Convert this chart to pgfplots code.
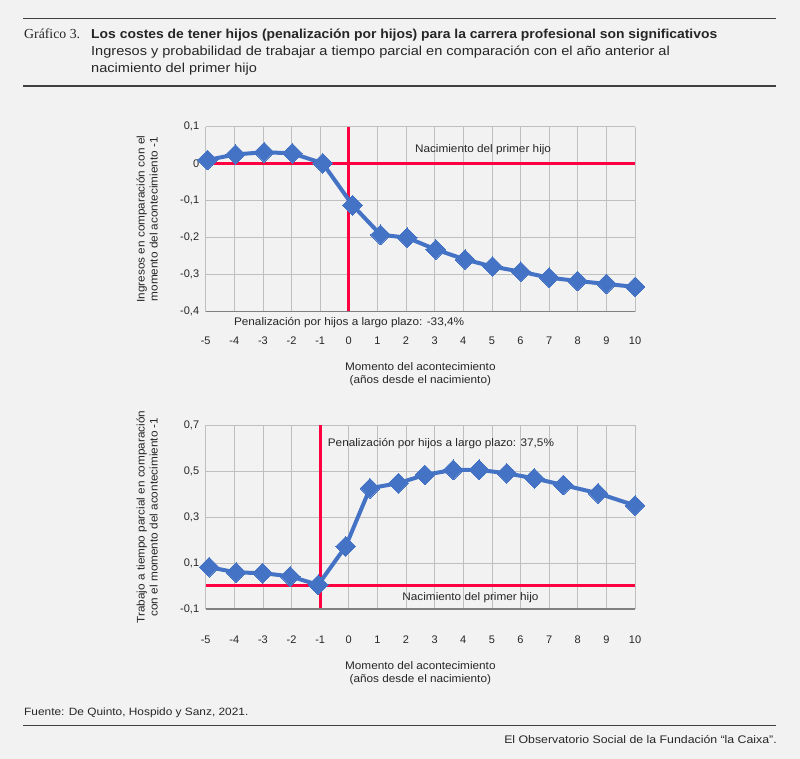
\documentclass[border=0pt]{standalone}
\usepackage{pgfplots}
\pgfplotsset{compat=1.18}
\usepackage{fontspec}
\setmainfont{Liberation Sans}
\newfontfamily\seriffont{Liberation Serif}
\newfontfamily\hdr[FakeStretch=1.12]{Liberation Sans}
\newfontfamily\hdrb[FakeStretch=1.07]{Liberation Sans}
\newfontfamily\pl[FakeStretch=1.07]{Liberation Sans}
\definecolor{bg}{HTML}{F2F2F2}
\definecolor{gridg}{HTML}{BFBFBF}
\definecolor{axg}{HTML}{808080}
\definecolor{redl}{RGB}{255,0,64}
\definecolor{bluel}{RGB}{68,114,196}
\definecolor{rule}{HTML}{404040}
\definecolor{txt}{HTML}{262626}
\pgfplotsset{
  mystyle/.style={
    scale only axis, width=429.3pt, clip=false,
    xmin=-5, xmax=10, xtick={-5,...,10},
    grid=major, major grid style={gridg, line width=0.7pt},
    axis line style={draw=none},
    major tick length=0pt,
    tick label style={font=\fontsize{11}{13}\selectfont, text=txt},
    /pgf/number format/assume math mode=true,
    /pgf/number format/use comma,
    /pgf/number format/fixed,
    yticklabel style={xshift=-3pt},
    ylabel style={font=\pl\fontsize{11}{13}\selectfont, text=txt, align=center, at={(axis description cs:-0.1367,0.5)}, anchor=center},
    xlabel style={font=\pl\fontsize{11}{13}\selectfont, text=txt, align=center, anchor=center},
  }
}
\begin{document}
\begin{tikzpicture}
\fill[bg] (0pt,0pt) rectangle (800pt,759pt);
% header
\draw[rule, line width=1.5pt] (23pt,740.7pt) -- (776pt,740.7pt);
\draw[rule, line width=1.5pt] (23pt,673pt) -- (776pt,673pt);
\node[anchor=base west, text=txt, inner sep=0] at (24pt,720.5pt) {\seriffont\fontsize{13.8}{15}\selectfont Gráfico 3.};
\node[anchor=base west, text=txt, inner sep=0] at (91pt,720.5pt) {\hdrb\fontsize{13}{15}\selectfont\bfseries Los costes de tener hijos (penalización por hijos) para la carrera profesional son significativos};
\node[anchor=base west, text=txt, inner sep=0] at (91pt,703pt) {\hdr\fontsize{13}{15}\selectfont Ingresos y probabilidad de trabajar a tiempo parcial en comparación con el año anterior al};
\node[anchor=base west, text=txt, inner sep=0] at (91pt,686pt) {\hdr\fontsize{13}{15}\selectfont nacimiento del primer hijo};
% footer
\node[anchor=base west, text=txt, inner sep=0] at (24pt,43.3pt) {\hdr\fontsize{10.6}{13}\selectfont Fuente: De Quinto, Hospido y Sanz, 2021.};
\draw[rule, line width=1.5pt] (23pt,33.3pt) -- (776pt,33.3pt);
\node[anchor=base east, text=txt, inner sep=0] at (777pt,15pt) {\hdr\fontsize{11}{13}\selectfont El Observatorio Social de la Fundación “la Caixa”.};

% top axis
\begin{axis}[mystyle, at={(205.7pt,447.3pt)}, anchor=south west, height=185pt,
  ymin=-0.4, ymax=0.1, ytick={-0.4,-0.3,-0.2,-0.1,0,0.1},
  xticklabel style={yshift=-22pt},
  ylabel={Ingresos en comparación con el\\momento del acontecimiento -1},
  xlabel={Momento del acontecimiento\\(años desde el nacimiento)},
  xlabel style={at={(axis description cs:0.5,-0.34)}},
]
\addplot[redl, line width=3pt] coordinates {(-5,0) (10,0)};
\addplot[redl, line width=3pt] coordinates {(0,-0.4) (0,0.1)};
\draw[axg, line width=1.5pt] (rel axis cs:0,0) -- (rel axis cs:1,0);
\addplot[bluel, line width=4pt, mark=square*, mark size=7pt, mark options={rotate=45, line width=0pt, fill=bluel}] coordinates {
(-4.94,0.010) (-3.96,0.025) (-2.96,0.031) (-1.97,0.028) (-0.91,0.001)
(0.13,-0.112) (1.11,-0.192) (2.04,-0.200) (3.04,-0.232) (4.06,-0.259)
(5.02,-0.278) (6.01,-0.292) (7.00,-0.308) (7.99,-0.317) (9.00,-0.325) (10,-0.333)};
\node[font=\pl\fontsize{11}{13}\selectfont, text=txt] at (axis cs:4.69,0.037) {Nacimiento del primer hijo};
\node[font=\pl\fontsize{11}{13}\selectfont, text=txt] at (axis cs:0.01,-0.43) {Penalización por hijos a largo plazo: -33,4\%};
\end{axis}

% bottom axis
\begin{axis}[mystyle, at={(205.7pt,150pt)}, anchor=south west, height=184pt,
  ymin=-0.1, ymax=0.7, ytick={-0.1,0.1,0.3,0.5,0.7},
  xticklabel style={yshift=-23pt},
  ylabel={Trabajo a tiempo parcial en comparación\\con el momento del acontecimiento -1},
  xlabel={Momento del acontecimiento\\(años desde el nacimiento)},
  xlabel style={at={(axis description cs:0.5,-0.35)}},
]
\addplot[redl, line width=3pt] coordinates {(-5,0) (10,0)};
\addplot[redl, line width=3pt] coordinates {(-1,-0.1) (-1,0.7)};
\draw[axg, line width=1.5pt] (rel axis cs:0,0) -- (rel axis cs:1,0);
\addplot[bluel, line width=4pt, mark=square*, mark size=7pt, mark options={rotate=45, line width=0pt, fill=bluel}] coordinates {
(-4.88,0.082) (-3.94,0.059) (-3.01,0.056) (-2.05,0.042) (-1.07,0.005)
(-0.11,0.172) (0.74,0.425) (1.73,0.447) (2.66,0.483) (3.65,0.505)
(4.55,0.505) (5.52,0.490) (6.48,0.468) (7.49,0.439) (8.71,0.403) (10,0.350)};
\node[font=\pl\fontsize{11}{13}\selectfont, text=txt] at (axis cs:3.22,0.617) {Penalización por hijos a largo plazo: 37,5\%};
\node[font=\pl\fontsize{11}{13}\selectfont, text=txt] at (axis cs:4.25,-0.051) {Nacimiento del primer hijo};
\end{axis}
\end{tikzpicture}
\end{document}
